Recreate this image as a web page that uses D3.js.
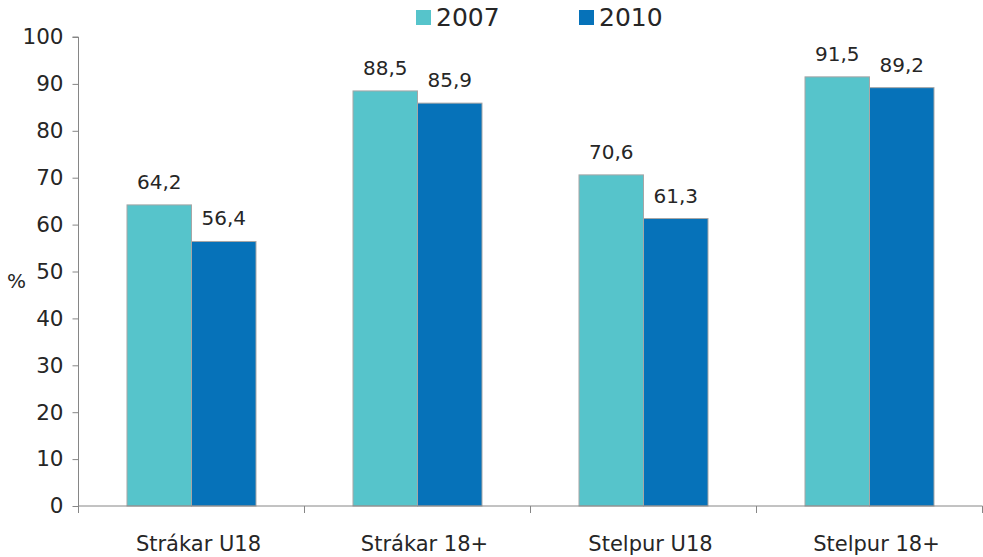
<!DOCTYPE html>
<html>
<head>
<meta charset="utf-8">
<script src="https://cdn.jsdelivr.net/npm/d3@7"></script>
<style>
  html, body { margin: 0; padding: 0; background: #fff; }
  svg { display: block; }
  text { font-family: "DejaVu Sans", sans-serif; fill: #262626; }
</style>
</head>
<body>
<svg id="chart" width="983" height="557"></svg>
<script>
const categories = ["Strákar U18", "Strákar 18+", "Stelpur U18", "Stelpur 18+"];
const seriesNames = ["2007", "2010"];
const values2007 = [64.2, 88.5, 70.6, 91.5];
const values2010 = [56.4, 85.9, 61.3, 89.2];
const yTicks = [0, 10, 20, 30, 40, 50, 60, 70, 80, 90, 100];
const colors = ["#56c4cb", "#0672b9"];
const fmt = v => String(v.toFixed(1)).replace(".", ",");

const svg = d3.select("#chart");
const plotLeft = 78.5, plotRight = 982.5, plotTop = 37, plotBottom = 506;

const y = d3.scaleLinear().domain([0, 100]).range([plotBottom, plotTop]);
const x0 = d3.scaleBand().domain(categories).range([plotLeft, plotRight]).padding(0);
const x1 = d3.scaleBand().domain(seriesNames).range([0, x0.bandwidth()])
  .paddingInner(0).paddingOuter(0.752);
const color = d3.scaleOrdinal().domain(seriesNames).range(colors);

const data = categories.map((c, i) => ({
  cat: c,
  vals: [{s: "2007", v: values2007[i]}, {s: "2010", v: values2010[i]}]
}));

// bars
const g = svg.append("g");
const groups = g.selectAll("g.cat").data(data).enter().append("g")
  .attr("transform", d => `translate(${x0(d.cat)},0)`);
groups.selectAll("rect").data(d => d.vals).enter().append("rect")
  .attr("x", d => x1(d.s))
  .attr("y", d => y(d.v))
  .attr("width", x1.bandwidth())
  .attr("height", d => y(0) - y(d.v))
  .attr("fill", d => color(d.s))
  .attr("stroke", "#a6a6a6")
  .attr("stroke-width", 1);
groups.selectAll("text.val").data(d => d.vals).enter().append("text")
  .attr("class", "val")
  .attr("x", d => x1(d.s) + x1.bandwidth() / 2)
  .attr("y", d => y(d.v) - 16)
  .attr("text-anchor", "middle")
  .attr("font-size", "20px")
  .text(d => fmt(d.v));

// y axis
const yAxis = svg.append("g").attr("transform", `translate(${plotLeft},0)`)
  .call(d3.axisLeft(y).tickValues(yTicks).tickSize(6).tickPadding(9));
yAxis.selectAll("path, line").attr("stroke", "#868686");
yAxis.select(".domain").attr("d", `M-6,${plotTop}H0V${plotBottom}`);
yAxis.selectAll("text").attr("font-size", "21.5px").attr("fill", "#262626")
  .style("font-family", '"DejaVu Sans", sans-serif');

// x axis
const xg = svg.append("g");
xg.append("line").attr("x1", plotLeft).attr("x2", plotRight).attr("y1", plotBottom).attr("y2", plotBottom)
  .attr("stroke", "#868686");
const bounds = categories.map(c => x0(c)).concat([plotRight]);
xg.selectAll("line.tick").data(bounds).enter().append("line")
  .attr("class", "tick")
  .attr("x1", d => d).attr("x2", d => d)
  .attr("y1", plotBottom).attr("y2", plotBottom + 7)
  .attr("stroke", "#868686");
xg.selectAll("text").data(categories).enter().append("text")
  .attr("x", d => x0(d) + x0.bandwidth() / 2 + 7)
  .attr("y", 551)
  .attr("text-anchor", "middle")
  .attr("font-size", "21px")
  .text(d => d);

// y label
svg.append("text").attr("x", 7).attr("y", 288).attr("font-size", "20px").text("%");

// legend
const legendX = [416, 579];
const lg = svg.selectAll("g.leg").data(seriesNames).enter().append("g")
  .attr("class", "leg")
  .attr("transform", (d, i) => `translate(${legendX[i]},0)`);
lg.append("rect").attr("x", 0).attr("y", 10).attr("width", 15).attr("height", 15)
  .attr("fill", d => color(d));
lg.append("text").attr("x", 20).attr("y", 26).attr("font-size", "25px").text(d => d);
</script>
</body>
</html>
